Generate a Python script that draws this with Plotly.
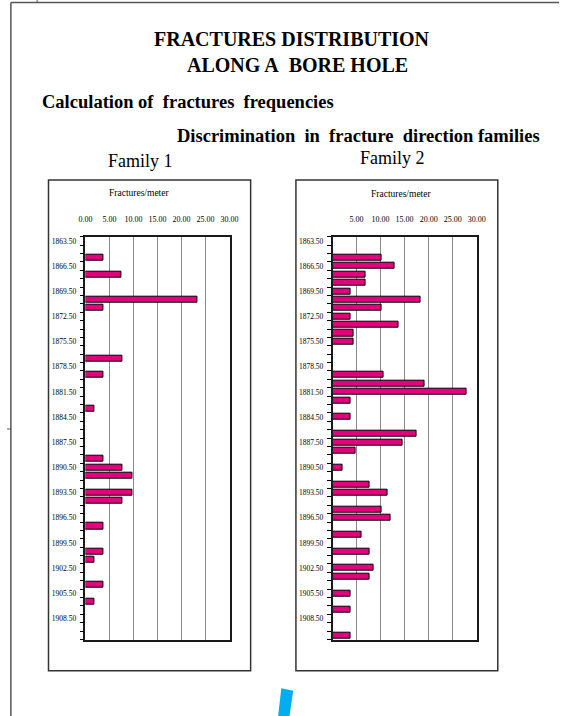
import plotly.graph_objects as go

# Depth axis (one category per meter, labelled every 3 m)
depth_min = 1863.5
depth_max = 1910.5
depth_labels = [1863.5, 1866.5, 1869.5, 1872.5, 1875.5, 1878.5, 1881.5, 1884.5,
                1887.5, 1890.5, 1893.5, 1896.5, 1899.5, 1902.5, 1905.5, 1908.5]
depth_bounds = [1863 + i for i in range(49)]

# Family 1 fracture frequencies (fractures/meter)
f1_depth = [1865.5, 1867.5, 1870.5, 1871.5, 1877.5, 1879.5, 1883.5, 1889.5, 1890.5,
            1891.5, 1893.5, 1894.5, 1897.5, 1900.5, 1901.5, 1904.5, 1906.5]
f1_value = [3.8, 7.4, 23.4, 3.8, 7.7, 3.8, 1.9, 3.8, 7.8,
            9.8, 9.8, 7.7, 3.8, 3.8, 1.9, 3.8, 1.9]

# Family 2 fracture frequencies (fractures/meter)
f2_depth = [1865.5, 1866.5, 1867.5, 1868.5, 1869.5, 1870.5, 1871.5, 1872.5, 1873.5,
            1874.5, 1875.5, 1879.5, 1880.5, 1881.5, 1882.5, 1884.5, 1886.5, 1887.5,
            1888.5, 1890.5, 1892.5, 1893.5, 1895.5, 1896.5, 1898.5, 1900.5, 1902.5,
            1903.5, 1905.5, 1907.5, 1910.5]
f2_value = [10.3, 12.9, 6.9, 6.8, 3.8, 18.4, 10.3, 3.8, 13.7,
            4.3, 4.3, 10.7, 19.1, 27.8, 3.8, 3.8, 17.5, 14.6,
            4.7, 2.0, 7.6, 11.5, 10.3, 12.0, 6.0, 7.6, 8.6,
            7.6, 3.8, 3.8, 3.8]

f1_xticks = [0, 5, 10, 15, 20, 25, 30]
f2_xticks = [5, 10, 15, 20, 25, 30]

W, H = 568, 716
SERIF = 'Liberation Serif, Times New Roman, serif'
BAR_COLOR = '#E4007C'


def px_x(x):
    return x / W


def px_y(y):
    return 1 - y / H


fig = go.Figure()

fig.add_trace(go.Bar(x=f1_value, y=f1_depth, orientation='h', width=0.72,
                     marker=dict(color=BAR_COLOR, line=dict(color='black', width=1)),
                     xaxis='x', yaxis='y', showlegend=False))
fig.add_trace(go.Bar(x=f2_value, y=f2_depth, orientation='h', width=0.72,
                     marker=dict(color=BAR_COLOR, line=dict(color='black', width=1)),
                     xaxis='x2', yaxis='y2', showlegend=False))

ydom = [px_y(639.5), px_y(236.7)]


def xaxis_style(domain, ticks, anchor):
    return dict(domain=domain, anchor=anchor, side='top', range=[0, 30],
                tickvals=ticks, tickformat='.2f',
                tickfont=dict(family=SERIF, size=8, color='black'),
                ticks='outside', ticklen=10, tickcolor='rgba(0,0,0,0)',
                showgrid=True, gridcolor='#8a8a8a', gridwidth=1,
                showline=True, linecolor='#1a1a1a', linewidth=2, mirror=True,
                zeroline=False, fixedrange=True)


def yaxis_style(anchor):
    return dict(domain=ydom, anchor=anchor, range=[depth_max + 0.5, depth_min - 0.5],
                tickvals=depth_labels, tickformat='.2f',
                tickfont=dict(family=SERIF, size=7.5, color='black'),
                ticks='outside', ticklen=6, tickcolor='rgba(0,0,0,0)',
                minor=dict(tickvals=depth_bounds, ticks='outside', ticklen=4,
                           tickcolor='black', tickwidth=1.3),
                showgrid=False, showline=True, linecolor='#1a1a1a', linewidth=1.5,
                mirror=True, zeroline=False, fixedrange=True)


shapes = [
    # page border lines
    dict(type='line', xref='paper', yref='paper', x0=px_x(4), x1=1.0,
         y0=px_y(2.5), y1=px_y(2.5), line=dict(color='#555555', width=1.5)),
    dict(type='line', xref='paper', yref='paper', x0=px_x(4), x1=px_x(4),
         y0=px_y(2.5), y1=0, line=dict(color='#555555', width=1.5)),
    dict(type='line', xref='paper', yref='paper', x0=px_x(31), x1=px_x(31),
         y0=1.0, y1=px_y(2.5), line=dict(color='#555555', width=1)),
    dict(type='line', xref='paper', yref='paper', x0=0, x1=px_x(4),
         y0=px_y(429), y1=px_y(429), line=dict(color='#555555', width=1)),
    # chart frames
    dict(type='rect', xref='paper', yref='paper', x0=px_x(42.7), x1=px_x(250.7),
         y0=px_y(670.7), y1=px_y(180), line=dict(color='#333333', width=1.5)),
    dict(type='rect', xref='paper', yref='paper', x0=px_x(297.3), x1=px_x(505),
         y0=px_y(670.7), y1=px_y(180), line=dict(color='#333333', width=1.5)),
    # blue mark at the bottom
    dict(type='path', xref='paper', yref='paper',
         path='M {} {} L {} {} L {} {} L {} {} Z'.format(
             px_x(282.3), px_y(688.3), px_x(294.5), px_y(690.7),
             px_x(290.7), px_y(716), px_x(279), px_y(716)),
         fillcolor='#00AEEF', line=dict(width=0)),
]

annotations = [
    dict(text='FRACTURES DISTRIBUTION', x=px_x(293), y=px_y(39),
         font=dict(family=SERIF, size=20, color='black', weight='bold')),
    dict(text='ALONG A\u00a0 BORE HOLE', x=px_x(299), y=px_y(65),
         font=dict(family=SERIF, size=20, color='black', weight='bold')),
    dict(text='Calculation of\u00a0 fractures\u00a0 frequencies', x=px_x(34), y=px_y(102.5),
         xanchor='left', font=dict(family=SERIF, size=18.5, color='black', weight='bold')),
    dict(text='Discrimination\u00a0 in\u00a0 fracture\u00a0 direction families', x=px_x(173),
         y=px_y(136), xanchor='left',
         font=dict(family=SERIF, size=18.5, color='black', weight='bold')),
    dict(text='Family 1', x=px_x(137), y=px_y(161),
         font=dict(family=SERIF, size=18, color='black')),
    dict(text='Family 2', x=px_x(397), y=px_y(158),
         font=dict(family=SERIF, size=18, color='black')),
    dict(text='Fractures/meter', x=px_x(136), y=px_y(193),
         font=dict(family=SERIF, size=9.5, color='black')),
    dict(text='Fractures/meter', x=px_x(405), y=px_y(194),
         font=dict(family=SERIF, size=9.5, color='black')),
]
for a in annotations:
    a.update(xref='paper', yref='paper', showarrow=False)
    a.setdefault('xanchor', 'center')
    a.setdefault('yanchor', 'middle')

fig.update_layout(
    width=W, height=H,
    margin=dict(l=0, r=0, t=0, b=0),
    paper_bgcolor='white', plot_bgcolor='white',
    bargap=0,
    xaxis=xaxis_style([px_x(80.7), px_x(229)], f1_xticks, 'y'),
    yaxis=yaxis_style('x'),
    xaxis2=xaxis_style([px_x(335), px_x(483.3)], f2_xticks, 'y2'),
    yaxis2=yaxis_style('x2'),
    shapes=shapes,
    annotations=annotations,
)

fig.write_html("out.html", config={'displayModeBar': False},
               post_script="document.body.style.margin='0';")
